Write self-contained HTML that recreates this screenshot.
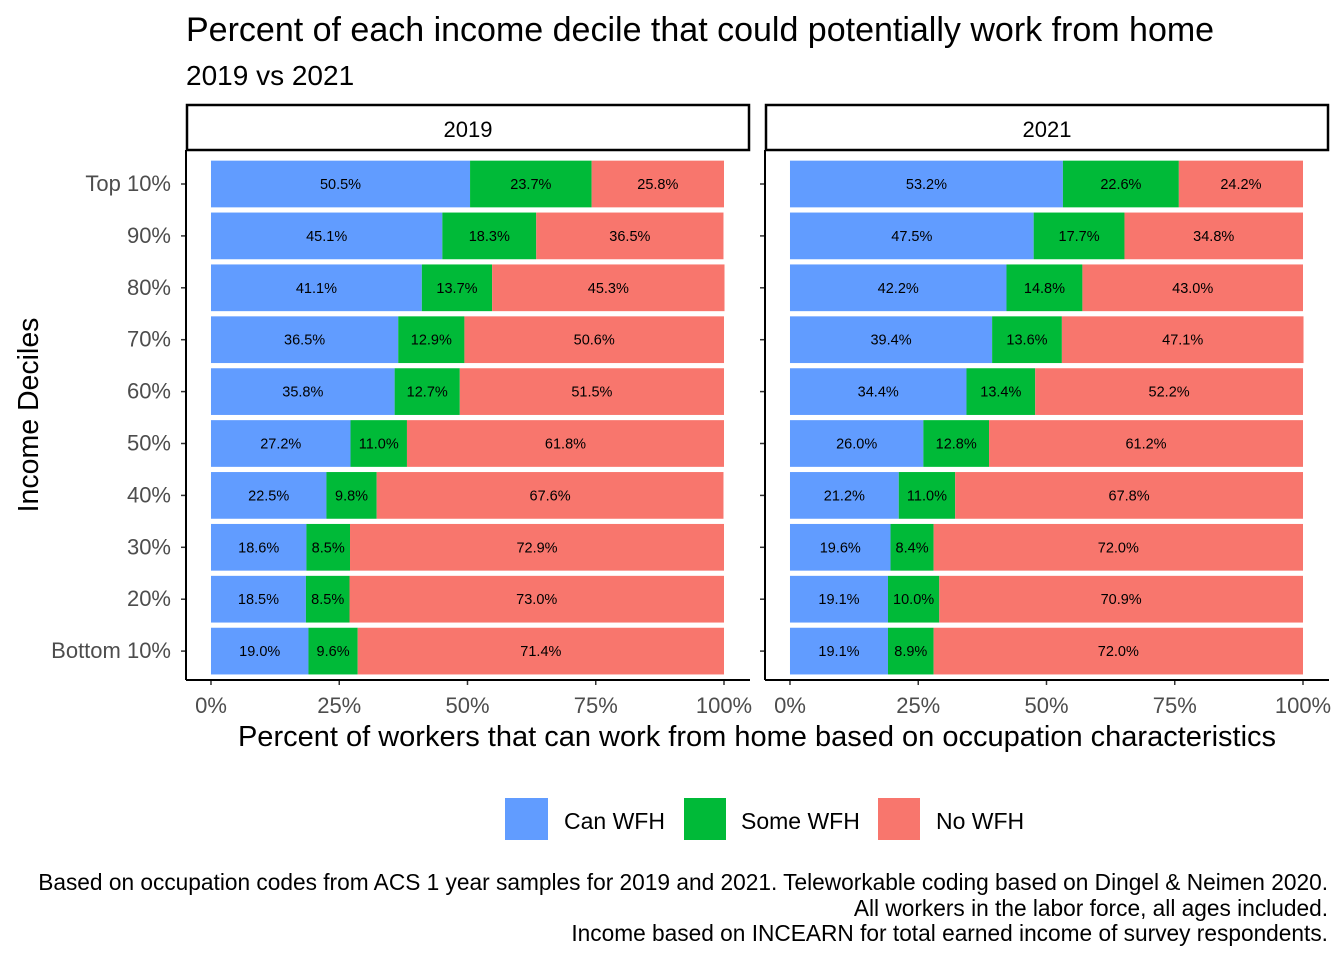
<!DOCTYPE html>
<html><head><meta charset="utf-8"><style>
body{margin:0;background:#fff;font-family:"Liberation Sans",Arial,sans-serif;}
svg{display:block}
</style></head><body>
<svg id="chart" width="1344" height="960" xmlns="http://www.w3.org/2000/svg" font-family="Liberation Sans, Arial, sans-serif">
<text x="186" y="41" font-size="34" fill="#000">Percent of each income decile that could potentially work from home</text>
<text x="186" y="85" font-size="28" fill="#000">2019 vs 2021</text>
<text transform="translate(38,415) rotate(-90)" text-anchor="middle" font-size="28.5" fill="#000">Income Deciles</text>
<text x="757" y="746" text-anchor="middle" font-size="29" fill="#000">Percent of workers that can work from home based on occupation characteristics</text>
<g>
<rect x="505" y="798" width="43" height="42" fill="#619CFF"/>
<text x="564" y="829" font-size="23">Can WFH</text>
<rect x="684" y="798" width="42" height="42" fill="#00BA38"/>
<text x="741" y="829" font-size="23">Some WFH</text>
<rect x="878" y="798" width="42" height="42" fill="#F8766D"/>
<text x="936" y="829" font-size="23">No WFH</text>
</g>
<g font-size="22.7" text-anchor="end">
<text x="1328" y="890">Based on occupation codes from ACS 1 year samples for 2019 and 2021. Teleworkable coding based on Dingel &amp; Neimen 2020.</text>
<text x="1328" y="916">All workers in the labor force, all ages included.</text>
<text x="1328" y="941">Income based on INCEARN for total earned income of survey respondents.</text>
</g>
</svg>
<script>
const categories=["Top 10%","90%","80%","70%","60%","50%","40%","30%","20%","Bottom 10%"];
const can2019=[50.5,45.1,41.1,36.5,35.8,27.2,22.5,18.6,18.5,19.0];
const some2019=[23.7,18.3,13.7,12.9,12.7,11.0,9.8,8.5,8.5,9.6];
const no2019=[25.8,36.5,45.3,50.6,51.5,61.8,67.6,72.9,73.0,71.4];
const can2021=[53.2,47.5,42.2,39.4,34.4,26.0,21.2,19.6,19.1,19.1];
const some2021=[22.6,17.7,14.8,13.6,13.4,12.8,11.0,8.4,10.0,8.9];
const no2021=[24.2,34.8,43.0,47.1,52.2,61.2,67.8,72.0,70.9,72.0];
const xTicks=[0,25,50,75,100];
const panels=[{year:"2019",left:186,right:750,series:[can2019,some2019,no2019]},
              {year:"2021",left:765,right:1329,series:[can2021,some2021,no2021]}];
const colors=["#619CFF","#00BA38","#F8766D"];
const sNames=["can-wfh","some-wfh","no-wfh"];
const svgEl=document.getElementById('chart');
const NS="http://www.w3.org/2000/svg";
function mk(t,a,p){const e=document.createElementNS(NS,t);for(const k in a)e.setAttribute(k,a[k]);(p||svgEl).appendChild(e);return e;}
const plotTop=150,plotBottom=680,step=51.9;
function yPos(i){return 184+step*i;}
panels.forEach((p,pi)=>{
  const x0=p.left+(p.right-p.left)*0.0443, x1=p.right-(p.right-p.left)*0.0461;
  const x=v=>x0+(x1-x0)*v/100;
  const g=mk('g',{});
  
  
  const strip=mk('rect',{x:p.left+1,y:105,width:p.right-p.left-2,height:45,fill:'#fff',stroke:'#000','stroke-width':2.5},g);
  
  
  const st=mk('text',{x:(p.left+p.right)/2,y:137,'text-anchor':'middle','font-size':22},g);st.textContent=p.year;
  
  
  categories.forEach((c,i)=>{
    let acc=0;const cy=yPos(i),h=step*0.9;
    p.series.forEach((s,si)=>{
      const v=s[i];
      const r=mk('rect',{x:x(acc),y:cy-h/2,width:x(acc+v)-x(acc),height:h,fill:colors[si]},g);
      
      
      const t=mk('text',{x:x(acc+v/2),y:cy+5,'text-anchor':'middle','font-size':14.5},g);
      t.textContent=v.toFixed(1)+'%';
      
      
      acc+=v;
    });
    if(pi===0){
      const t=mk('text',{x:171,y:cy+7,'text-anchor':'end','font-size':22,fill:'#4d4d4d'},g);
      t.textContent=c;
      
      
    }
    mk('line',{x1:p.left-5,x2:p.left,y1:cy,y2:cy,stroke:'#333','stroke-width':1.5},g);
  });
  xTicks.forEach(v=>{
    mk('line',{x1:x(v),x2:x(v),y1:plotBottom,y2:plotBottom+5,stroke:'#333','stroke-width':1.5},g);
    const t=mk('text',{x:x(v),y:713,'text-anchor':'middle','font-size':22,fill:'#4d4d4d'},g);
    t.textContent=v+'%';
    
    
  });
  const ax=mk('line',{x1:p.left,x2:p.left,y1:plotTop,y2:plotBottom,stroke:'#000','stroke-width':2},g);
  
  
  const bx=mk('line',{x1:p.left,x2:p.right,y1:plotBottom,y2:plotBottom,stroke:'#000','stroke-width':2},g);
  
  
});
</script>
</body></html>
